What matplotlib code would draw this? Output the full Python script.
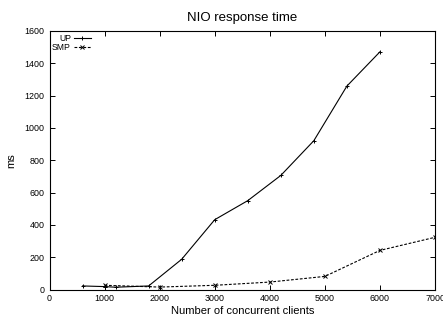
import matplotlib.pyplot as plt

plt.rcParams['font.family'] = ['Liberation Sans', 'DejaVu Sans']

# data
up_clients = [600, 1000, 1200, 1800, 2400, 3000, 3600, 4200, 4800, 5400, 6000]
up_ms = [22, 18, 14, 22, 187, 432, 550, 706, 921, 1259, 1471]
smp_clients = [1000, 2000, 3000, 4000, 5000, 6000, 7000]
smp_ms = [26, 15, 26, 46, 81, 242, 323]
x_ticks = [0, 1000, 2000, 3000, 4000, 5000, 6000, 7000]
y_ticks = [0, 200, 400, 600, 800, 1000, 1200, 1400, 1600]

fig = plt.figure(figsize=(4.43, 3.2), dpi=100)
ax = fig.add_axes([49.5 / 443, 1 - 289.5 / 320, 385.5 / 443, 258.5 / 320])

ax.plot(up_clients, up_ms, color='black', lw=0.8, marker='+', ms=3.5, mew=0.7, label='UP')
ax.plot(smp_clients, smp_ms, color='black', lw=0.8, ls=(0, (2.5, 1.5)), marker='x', ms=2.5,
        mew=0.7, label='SMP')

ax.set_xlim(0, 7000)
ax.set_ylim(0, 1600)
ax.set_xticks(x_ticks)
ax.set_yticks(y_ticks)
ax.tick_params(direction='in', top=True, right=True, length=3.5, width=0.7,
               labelsize=6.4, pad=3.5)
for s in ax.spines.values():
    s.set_linewidth(0.8)

ax.set_title('NIO response time', fontsize=9.5, pad=7.5)
ax.set_xlabel('Number of concurrent clients', fontsize=8, labelpad=2)
ax.set_ylabel('ms', fontsize=8, labelpad=6)

ax.legend(loc='upper left', markerfirst=False, frameon=False, fontsize=6.2,
          handlelength=2.0, handletextpad=0.3, labelspacing=0.0,
          borderaxespad=0.2, borderpad=0.1)

fig.savefig('out.png', dpi=100)
